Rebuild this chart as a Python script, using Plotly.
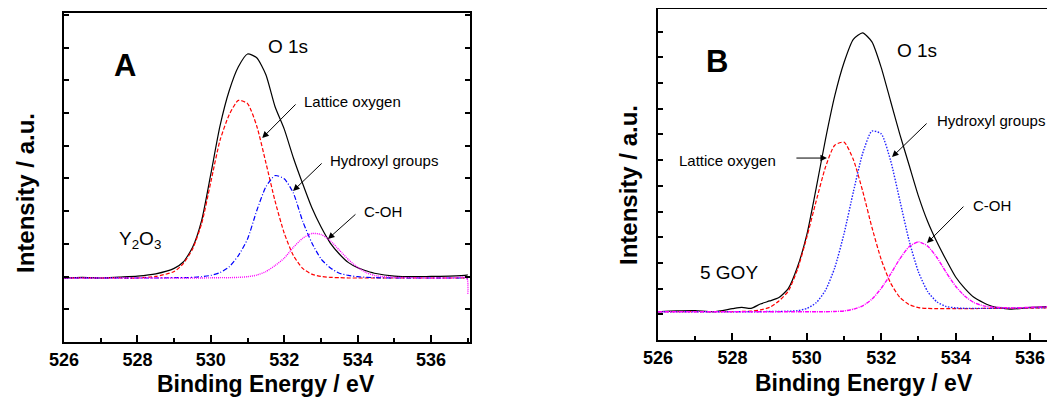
import plotly.graph_objects as go

# ---------------- Panel A (Y2O3) ----------------
E_A = [526, 526.5, 527, 527.5, 528, 528.5, 529, 529.25, 529.5, 529.75, 530, 530.25, 530.5, 530.75,
       531, 531.25, 531.5, 531.75, 532, 532.25, 532.5, 532.75, 533, 533.25, 533.5, 533.75, 534,
       534.25, 534.5, 535, 535.5, 536, 536.5, 536.97, 537]
black_A = [0.0, 0.02, 0.0, 0.03, 0.06, 0.13, 0.3, 0.5, 0.95, 1.8, 3.25, 4.75, 5.85, 6.6,
           7.0, 6.88, 6.35, 5.35, 4.65, 3.75, 2.95, 2.2, 1.6, 1.1, 0.75, 0.48, 0.32,
           0.22, 0.14, 0.06, 0.04, 0.05, 0.06, 0.09, 0.1]
red_A = [0.0, 0.0, 0.0, 0.0, 0.0, 0.05, 0.2, 0.45, 0.9, 1.7, 3.0, 4.3, 5.1, 5.55,
         5.45, 4.75, 3.6, 2.4, 1.4, 0.7, 0.3, 0.12, 0.05, 0.02, 0.01, 0.0, 0.0,
         0.0, 0.0, 0.0, 0.0, 0.0, 0.0, 0.0, 0.0]
blue_A = [0.0, 0.0, 0.0, 0.0, 0.0, 0.0, 0.01, 0.01, 0.02, 0.04, 0.08, 0.17, 0.35, 0.7,
          1.22, 2.1, 2.85, 3.2, 3.1, 2.65, 1.78, 1.1, 0.6, 0.32, 0.15, 0.08, 0.04,
          0.02, 0.01, 0.0, 0.0, 0.0, 0.0, 0.0, 0.0]
mag_A = [0.0, 0.0, 0.0, 0.0, 0.0, 0.0, 0.0, 0.0, 0.0, 0.0, 0.005, 0.01, 0.01, 0.02,
         0.04, 0.09, 0.2, 0.39, 0.62, 0.96, 1.24, 1.39, 1.36, 1.17, 0.87, 0.57, 0.33,
         0.16, 0.07, 0.02, 0.01, 0.0, 0.0, 0.0, -0.5]

# ---------------- Panel B (5 GOY) ----------------
E_B = [526, 526.5, 527, 527.5, 528, 528.25, 528.5, 528.75, 529, 529.25, 529.5, 529.75, 530,
       530.25, 530.5, 530.75, 531, 531.25, 531.5, 531.75, 532, 532.25, 532.5, 532.75, 533,
       533.25, 533.5, 533.75, 534, 534.25, 534.5, 534.75, 535, 535.5, 536, 536.5, 536.7]
black_B = [0.0, 0.03, 0.04, 0.0, 0.12, 0.17, 0.13, 0.3, 0.42, 0.55, 0.9, 1.75, 3.0,
           4.8, 6.7, 8.4, 9.7, 10.6, 10.85, 10.5, 9.5, 8.2, 6.9, 5.7, 4.5,
           3.5, 2.7, 2.0, 1.35, 0.9, 0.55, 0.35, 0.2, 0.1, 0.17, 0.2, 0.22]
red_B = [0.0, 0.0, 0.0, 0.0, 0.0, 0.01, 0.02, 0.07, 0.17, 0.42, 0.8, 1.65, 2.9,
         4.3, 5.62, 6.48, 6.6, 5.92, 4.7, 3.28, 2.03, 1.12, 0.56, 0.28, 0.16,
         0.13, 0.12, 0.12, 0.12, 0.12, 0.12, 0.13, 0.13, 0.13, 0.14, 0.15, 0.15]
blue_B = [0.0, 0.0, 0.0, 0.0, 0.0, 0.0, 0.0, 0.0, 0.01, 0.01, 0.02, 0.04, 0.13,
          0.35, 0.83, 1.71, 3.04, 4.66, 6.16, 7.03, 6.92, 5.89, 4.33, 2.76, 1.55,
          0.78, 0.38, 0.2, 0.15, 0.13, 0.13, 0.13, 0.13, 0.14, 0.15, 0.16, 0.16]
mag_B = [0.0, 0.0, 0.0, 0.0, 0.0, 0.0, 0.0, 0.0, 0.0, 0.0, 0.0, 0.0, 0.0,
         0.0, 0.0, 0.01, 0.03, 0.1, 0.23, 0.49, 0.91, 1.46, 2.06, 2.53, 2.72,
         2.55, 2.1, 1.52, 0.99, 0.6, 0.35, 0.23, 0.18, 0.15, 0.17, 0.2, 0.21]

X_TICKS = [526, 528, 530, 532, 534, 536]

FONT = "Arial, Liberation Sans, sans-serif"
fig = go.Figure()


def add_line(x, y, color, dash, xa, ya, width=1.2):
    fig.add_trace(go.Scatter(x=x, y=y, mode="lines", xaxis=xa, yaxis=ya,
                             line=dict(color=color, width=width, dash=dash, shape="spline", smoothing=0.6),
                             showlegend=False, hoverinfo="skip"))


add_line(E_A, black_A, "black", "solid", "x", "y")
add_line(E_A, red_A, "#ff0000", "4px,2px", "x", "y")
add_line(E_A, blue_A, "#0000ff", "5px,2px,1px,2px", "x", "y")
add_line(E_A, mag_A, "#ff00ff", "1px,1px", "x", "y", 1.4)

add_line(E_B, black_B, "black", "solid", "x2", "y2")
add_line(E_B, red_B, "#ff0000", "4px,2px", "x2", "y2")
add_line(E_B, blue_B, "#2020ff", "1.5px,1.5px", "x2", "y2", 1.4)
add_line(E_B, mag_B, "#ff00ff", "4px,1px,1px,1px", "x2", "y2", 1.4)

W, H = 1055, 400
OFF = 8  # page body margin offset of the figure in the browser window


def xdom(l, r):
    return [(l - OFF) / W, (r - OFF) / W]


def ydom(t, b):
    return [1 - (b - OFF) / H, 1 - (t - OFF) / H]


xcommon = dict(tickmode="array", tickvals=X_TICKS, ticks="inside", ticklen=7, tickwidth=2,
               tickcolor="black", showline=True, linewidth=2, linecolor="black",
               showgrid=False, zeroline=False, automargin=False,
               tickfont=dict(family=FONT, size=18, color="black", weight="bold"),
               minor=dict(dtick=1, tick0=526, ticks="inside", ticklen=4, tickwidth=1.5, tickcolor="black",
                          showgrid=False))
ycommon = dict(ticks="inside", ticklen=5, tickwidth=1.5, tickcolor="black", showticklabels=False,
               showline=True, linewidth=2, linecolor="black", showgrid=False, zeroline=False,
               tickmode="linear", automargin=False)

layout = dict(
    width=W, height=H, autosize=False, margin=dict(l=0, r=0, t=0, b=0, pad=0),
    paper_bgcolor="white", plot_bgcolor="white",
    xaxis=dict(domain=xdom(64, 470), range=[526, 537.06], anchor="y", mirror=True, **xcommon),
    yaxis=dict(domain=ydom(13, 342), range=[-2.0, 8.28], anchor="x", mirror="ticks",
               tick0=-2.0, dtick=1.022, **ycommon),
    xaxis2=dict(domain=xdom(658, 1055), range=[526, 536.67], anchor="y2", mirror=True, **xcommon),
    yaxis2=dict(domain=ydom(9, 340), range=[-1.1, 11.78], anchor="x2", mirror=False,
                tick0=-1.1, dtick=1.0, **ycommon),
)
fig.update_layout(**layout)

ann = []


def text(x, y, s, size, xa, ya, anchor="left", bold=False):
    ann.append(dict(x=x, y=y, xref=xa, yref=ya, text=s, showarrow=False, xanchor=anchor, yanchor="middle",
                    font=dict(family=FONT, size=size, color="black", weight="bold" if bold else "normal")))


def arrow(x0, y0, x1, y1, xa, ya):
    ann.append(dict(x=x1, y=y1, ax=x0, ay=y0, xref=xa, yref=ya, axref=xa, ayref=ya, text="",
                    showarrow=True, arrowhead=2, arrowsize=1.3, arrowwidth=1, arrowcolor="black", standoff=0))


# Panel A texts
text(527.66, 6.63, "A", 31, "x", "y", "center", True)
text(532.1, 7.22, "O 1s", 19, "x", "y", "center")
text(532.49, 5.53, "Lattice oxygen", 15, "x", "y")
text(533.19, 3.66, "Hydroxyl groups", 15, "x", "y")
text(534.12, 2.09, "C-OH", 15, "x", "y")
text(527.44, 1.2, "Y<sub>2</sub>O<sub>3</sub>", 19, "x", "y")
arrow(532.35, 5.47, 531.4, 4.375, "x", "y")
arrow(533.06, 3.625, 532.24, 2.72, "x", "y")
arrow(533.98, 2.03, 533.19, 1.22, "x", "y")

# Panel B texts
text(527.59, 9.72, "B", 31, "x2", "y2", "center", True)
text(532.96, 10.18, "O 1s", 19, "x2", "y2", "center")
text(526.51, 5.9, "Lattice oxygen", 15, "x2", "y2")
text(533.45, 7.46, "Hydroxyl groups", 15, "x2", "y2")
text(534.41, 4.15, "C-OH", 15, "x2", "y2")
text(527.08, 1.54, "5 GOY", 19, "x2", "y2")
arrow(529.68, 5.98, 530.54, 5.98, "x2", "y2")
arrow(533.26, 7.38, 532.29, 6.02, "x2", "y2")
arrow(534.25, 4.15, 533.23, 2.67, "x2", "y2")

# Axis titles
for (cx, cy) in [(25, 193), (628, 185)]:
    ann.append(dict(x=(cx - OFF) / W, y=1 - (cy - OFF) / H, xref="paper", yref="paper",
                    text="Intensity / a.u.", showarrow=False, textangle=-90,
                    xanchor="center", yanchor="middle",
                    font=dict(family=FONT, size=24, color="black", weight="bold")))
for (cx, cy) in [(266, 384), (864, 383)]:
    ann.append(dict(x=(cx - OFF) / W, y=1 - (cy - OFF) / H, xref="paper", yref="paper",
                    text="Binding Energy / eV", showarrow=False, xanchor="center", yanchor="middle",
                    font=dict(family=FONT, size=23, color="black", weight="bold")))

fig.update_layout(annotations=ann)
fig.write_html("out.html")
